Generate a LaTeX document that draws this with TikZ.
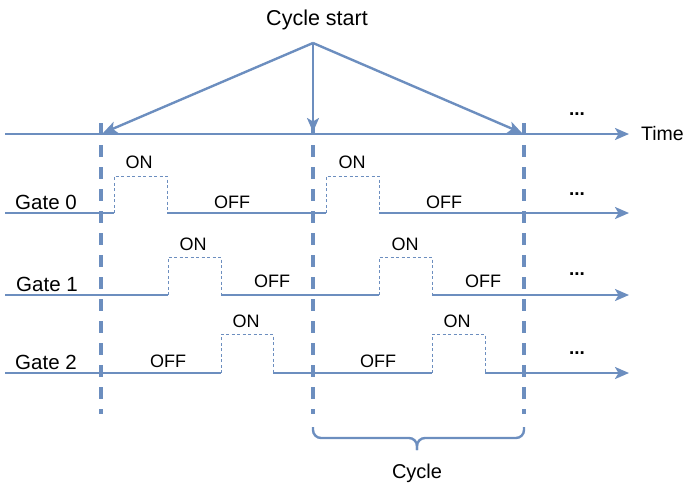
\documentclass[tikz,border=0pt]{standalone}
\usepackage{fontspec}
\setmainfont{Liberation Sans}
\usetikzlibrary{arrows.meta}
\definecolor{lineblue}{HTML}{6C8EBF}
\begin{document}
\begin{tikzpicture}[x=1pt,y=-1pt,
  sig/.style={draw=lineblue, line width=2.4pt},
  sigarrow/.style={sig, -{Stealth[length=14pt,width=12pt,inset=3.5pt]}},
  pulse/.style={draw=lineblue, line width=1pt, dash pattern=on 3pt off 2.5pt},
  cyc/.style={draw=lineblue, line width=3.4pt, dash pattern=on 12pt off 10pt},
  lbl/.style={font=\fontsize{20.5}{24}\selectfont, anchor=base, inner sep=0pt},
  st/.style={font=\fontsize{18}{21}\selectfont, anchor=base, inner sep=0pt},
  dots/.style={font=\fontsize{19}{22}\selectfont\bfseries, anchor=base, inner sep=0pt},
]
\useasboundingbox (0,0) rectangle (684,485);

% time axis
\coordinate (t0) at (5,134);
\coordinate (t1) at (629,134);
\draw[sigarrow] (t0) -- (t1);
\node[lbl, anchor=base west, font=\fontsize{19.5}{23}\selectfont] (time) at (641,140) {Time};

% cycle boundaries
\coordinate (c0t) at (101,123); \coordinate (c0b) at (101,414);
\coordinate (c1t) at (313,123); \coordinate (c1b) at (313,414);
\coordinate (c2t) at (524,123); \coordinate (c2b) at (524,414);
\draw[cyc] (c0t) -- (c0b);
\draw[cyc] (c1t) -- (c1b);
\draw[cyc] (c2t) -- (c2b);

% cycle start
\node[lbl, font=\fontsize{21.5}{25}\selectfont] (cs) at (317,25) {Cycle start};
\coordinate (apex) at (313,43);
\coordinate (a0) at (103,133);
\coordinate (a1) at (313,132);
\coordinate (a2) at (522,133);
\draw[sigarrow] (apex) -- (a0);
\draw[sigarrow] (apex) -- (a1);
\draw[sigarrow] (apex) -- (a2);

% Gate 0
\node[lbl] (g0) at (46,209) {Gate 0};
\draw[sig] (5,213) -- (114,213);
\draw[pulse] (114,213) -- (114,176) -- (167,176) -- (167,213);
\draw[sig] (167,213) -- (326,213);
\draw[pulse] (326,213) -- (326,176) -- (379,176) -- (379,213);
\draw[sigarrow] (379,213) -- (629,213);
\node[st] (g0on1) at (139,168) {ON};
\node[st] (g0off1) at (232,208) {OFF};
\node[st] (g0on2) at (352,168) {ON};
\node[st] (g0off2) at (444,208) {OFF};

% Gate 1
\node[lbl] (g1) at (47,291) {Gate 1};
\draw[sig] (5,295) -- (168,295);
\draw[pulse] (168,295) -- (168,257) -- (221,257) -- (221,295);
\draw[sig] (221,295) -- (379,295);
\draw[pulse] (379,295) -- (379,257) -- (432,257) -- (432,295);
\draw[sigarrow] (432,295) -- (629,295);
\node[st] (g1on1) at (193,250) {ON};
\node[st] (g1off1) at (272,287) {OFF};
\node[st] (g1on2) at (405,250) {ON};
\node[st] (g1off2) at (483,287) {OFF};

% Gate 2
\node[lbl] (g2) at (46,369) {Gate 2};
\draw[sig] (5,373) -- (221,373);
\draw[pulse] (221,373) -- (221,334) -- (273,334) -- (273,373);
\draw[sig] (273,373) -- (432,373);
\draw[pulse] (432,373) -- (432,334) -- (485,334) -- (485,373);
\draw[sigarrow] (485,373) -- (629,373);
\node[st] (g2on1) at (246,327) {ON};
\node[st] (g2off1) at (168,367) {OFF};
\node[st] (g2on2) at (457,327) {ON};
\node[st] (g2off2) at (378,367) {OFF};

% continuation dots
\node[dots] (d0) at (577,115) {...};
\node[dots] (d1) at (577,195) {...};
\node[dots] (d2) at (577,275) {...};
\node[dots] (d3) at (577,354) {...};

% cycle brace
\draw[sig, rounded corners=8pt] (313,427) -- (313,438) -- (417,438) -- (417,450);
\draw[sig, rounded corners=8pt] (524,427) -- (524,438) -- (417,438) -- (417,450);
\node[lbl, font=\fontsize{20}{24}\selectfont] (cyc) at (417,478) {Cycle};
\end{tikzpicture}
\end{document}
